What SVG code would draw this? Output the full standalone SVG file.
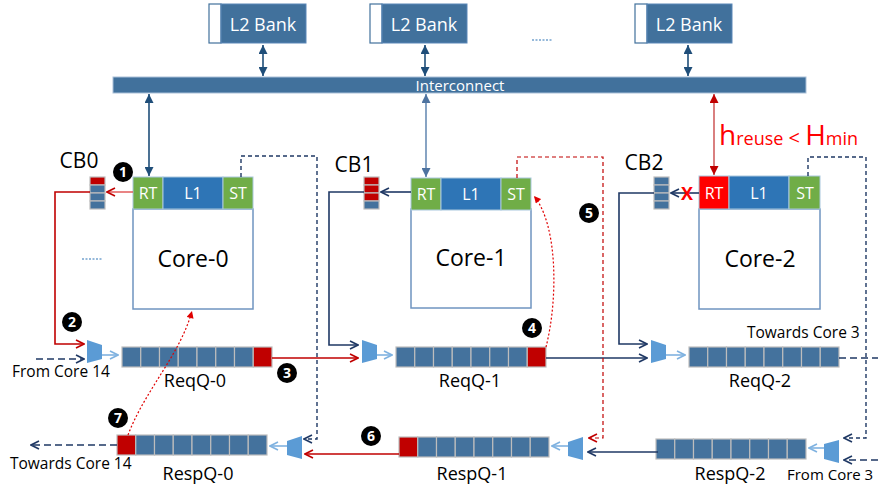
<svg xmlns="http://www.w3.org/2000/svg" width="878" height="489" viewBox="0 0 878 489">
<defs>
<style>
text{font-family:"Open Sans","Liberation Sans",sans-serif;}
.bank{fill:#41719C;stroke:#5B87B8;stroke-width:1;}
.bankw{fill:#fff;stroke:#41719C;stroke-width:1.2;}
.wt{fill:#fff;}
.lbl{fill:#000;}
.rt{fill:#70AD47;stroke:#A9C8DD;stroke-width:1;}
.l1{fill:#2E75B6;stroke:#A9C8DD;stroke-width:1;}
.core{fill:#fff;stroke:#6F94C0;stroke-width:1.5;}
.cell{fill:#44729D;stroke:#BDBDBD;stroke-width:1.2;}
.red{fill:#C00000;stroke:#BDBDBD;stroke-width:1.2;}
.mux{fill:#5B9BD5;}
.num{fill:#000;}
.numt{fill:#fff;font-weight:bold;font-size:14px;text-anchor:middle;}
.navy{fill:none;stroke:#1F3864;stroke-width:1.6;}
.navyd{fill:none;stroke:#1F3864;stroke-width:1.4;stroke-dasharray:4,3;}
.navyd2{fill:none;stroke:#1F3864;stroke-width:1.6;stroke-dasharray:7,4;}
.redl{fill:none;stroke:#C00000;stroke-width:1.6;}
.redd{fill:none;stroke:#C00000;stroke-width:1.2;stroke-dasharray:4,3;}
.redot{fill:none;stroke:#E00000;stroke-width:1.2;stroke-dasharray:2,2;}
.light{fill:none;stroke:#7FB2E0;stroke-width:1.6;}
.bus{fill:none;stroke:#1F4E79;stroke-width:1.6;}
</style>
<marker id="oNavy" viewBox="0 0 10 10" refX="9" refY="5" markerWidth="10" markerHeight="10" orient="auto" markerUnits="userSpaceOnUse"><path d="M1,1 L9,5 L1,9" fill="none" stroke="#1F3864" stroke-width="1.6"/></marker>
<marker id="oRed" viewBox="0 0 10 10" refX="9" refY="5" markerWidth="10" markerHeight="10" orient="auto" markerUnits="userSpaceOnUse"><path d="M1,1 L9,5 L1,9" fill="none" stroke="#C00000" stroke-width="1.6"/></marker>
<marker id="oLight" viewBox="0 0 10 10" refX="9" refY="5" markerWidth="10" markerHeight="10" orient="auto" markerUnits="userSpaceOnUse"><path d="M1,1 L9,5 L1,9" fill="none" stroke="#7FB2E0" stroke-width="1.6"/></marker>
<marker id="tBus" viewBox="0 0 10 10" refX="10" refY="5" markerWidth="10" markerHeight="9" orient="auto-start-reverse" markerUnits="userSpaceOnUse"><path d="M0,0 L10,5 L0,10 z" fill="#1F4E79"/></marker>
<marker id="tBus2" viewBox="0 0 10 10" refX="10" refY="5" markerWidth="10" markerHeight="9" orient="auto-start-reverse" markerUnits="userSpaceOnUse"><path d="M0,0 L10,5 L0,10 z" fill="#4E73A0"/></marker>
<marker id="tRed" viewBox="0 0 10 10" refX="10" refY="5" markerWidth="10" markerHeight="9" orient="auto-start-reverse" markerUnits="userSpaceOnUse"><path d="M0,0 L10,5 L0,10 z" fill="#C00000"/></marker>
<marker id="tRedS" viewBox="0 0 10 10" refX="10" refY="5" markerWidth="8" markerHeight="7" orient="auto" markerUnits="userSpaceOnUse"><path d="M0,0 L10,5 L0,10 z" fill="#E00000"/></marker>
</defs>

<!-- L2 banks -->
<g id="l2bank0"><rect class="bankw" x="209" y="4" width="12" height="39"/><rect class="bank" x="221" y="4" width="85" height="39"/><text class="wt" x="263" y="31" font-size="18" text-anchor="middle">L2 Bank</text></g>
<g id="l2bank1"><rect class="bankw" x="370" y="4" width="12" height="39"/><rect class="bank" x="382" y="4" width="85" height="39"/><text class="wt" x="424" y="31" font-size="18" text-anchor="middle">L2 Bank</text></g>
<g id="l2bank2"><rect class="bankw" x="635" y="4" width="12" height="39"/><rect class="bank" x="647" y="4" width="85" height="39"/><text class="wt" x="689" y="31" font-size="18" text-anchor="middle">L2 Bank</text></g>
<g id="bankdots"><line x1="532" y1="40" x2="553" y2="40" stroke="#2E75B6" stroke-width="1.2" stroke-dasharray="2,1.5"/></g>

<!-- Interconnect -->
<g id="interconnect"><rect x="113" y="77" width="693" height="16" fill="#41719C" stroke="#A9C0D8" stroke-width="1"/><text class="wt" x="460" y="90.5" font-size="15" text-anchor="middle">Interconnect</text></g>

<!-- Core 0 -->
<g id="core0">
<rect class="core" x="133" y="209" width="120" height="100"/>
<rect class="rt" x="133" y="177" width="30" height="32"/><rect class="l1" x="163" y="177" width="60" height="32"/><rect class="rt" x="223" y="177" width="30" height="32"/>
<text class="wt" x="148" y="199" font-size="16" text-anchor="middle">RT</text>
<text class="wt" x="193" y="199" font-size="16" text-anchor="middle">L1</text>
<text class="wt" x="238" y="199" font-size="16" text-anchor="middle">ST</text>
<text class="lbl" x="193" y="267" font-size="23" text-anchor="middle">Core-0</text>
</g>
<!-- Core 1 -->
<g id="core1">
<rect class="core" x="411" y="209" width="120" height="99"/>
<rect class="rt" x="411" y="178" width="30" height="32"/><rect class="l1" x="441" y="178" width="60" height="32"/><rect class="rt" x="501" y="178" width="30" height="32"/>
<text class="wt" x="426" y="200" font-size="16" text-anchor="middle">RT</text>
<text class="wt" x="471" y="200" font-size="16" text-anchor="middle">L1</text>
<text class="wt" x="516" y="200" font-size="16" text-anchor="middle">ST</text>
<text class="lbl" x="471" y="266" font-size="23" text-anchor="middle">Core-1</text>
</g>
<!-- Core 2 -->
<g id="core2">
<rect class="core" x="699" y="209" width="121" height="100"/>
<rect x="699" y="176" width="30" height="33" fill="#FF0000" stroke="#A9C8DD" stroke-width="1"/><rect class="l1" x="729" y="176" width="60" height="33"/><rect class="rt" x="789" y="176" width="31" height="33"/>
<text class="wt" x="714" y="199" font-size="16" text-anchor="middle">RT</text>
<text class="wt" x="759" y="199" font-size="16" text-anchor="middle">L1</text>
<text class="wt" x="805" y="199" font-size="16" text-anchor="middle">ST</text>
<text class="lbl" x="760" y="267" font-size="23" text-anchor="middle">Core-2</text>
</g>
<g id="coredots"><line x1="82" y1="259" x2="103" y2="259" stroke="#2E75B6" stroke-width="1.2" stroke-dasharray="2,1.5"/></g>

<!-- Condition text -->
<g id="condition"><text x="719" y="145" fill="#FF0000"><tspan font-size="28">h</tspan><tspan font-size="18">reuse</tspan><tspan font-size="20"> &lt; </tspan><tspan font-size="28">H</tspan><tspan font-size="18">min</tspan></text></g>

<!-- CBs -->
<g id="cb0"><text class="lbl" x="79" y="168" font-size="21" text-anchor="middle">CB0</text>
<rect class="red" x="90" y="177" width="15" height="8"/><rect class="cell" x="90" y="185" width="15" height="8"/><rect class="cell" x="90" y="193" width="15" height="8"/><rect class="cell" x="90" y="201" width="15" height="8"/></g>
<g id="cb1"><text class="lbl" x="354" y="172" font-size="21" text-anchor="middle">CB1</text>
<rect class="red" x="364" y="177" width="15" height="8"/><rect class="red" x="364" y="185" width="15" height="8"/><rect class="red" x="364" y="193" width="15" height="8"/><rect class="cell" x="364" y="201" width="15" height="8"/></g>
<g id="cb2"><text class="lbl" x="644" y="170" font-size="21" text-anchor="middle">CB2</text>
<rect class="cell" x="654" y="177" width="15" height="8"/><rect class="cell" x="654" y="185" width="15" height="8"/><rect class="cell" x="654" y="193" width="15" height="8"/><rect class="cell" x="654" y="201" width="15" height="8"/></g>

<!-- Muxes -->
<g id="mux-req0"><polygon class="mux" points="87,340 102,345 102,359 87,363"/></g>
<g id="mux-req1"><polygon class="mux" points="362,340 377,345 377,359 362,363"/></g>
<g id="mux-req2"><polygon class="mux" points="651,340 666,345 666,359 651,363"/></g>
<g id="mux-resp0"><polygon class="mux" points="287,441 302,436 302,459 287,455"/></g>
<g id="mux-resp1"><polygon class="mux" points="568,442 583,437 583,460 568,456"/></g>
<g id="mux-resp2"><polygon class="mux" points="824,444 839,440 839,463 824,459"/></g>

<!-- Request queues -->
<g id="reqq0">
<rect class="cell" x="122" y="347" width="18.75" height="20"/><rect class="cell" x="140.75" y="347" width="18.75" height="20"/><rect class="cell" x="159.5" y="347" width="18.75" height="20"/><rect class="cell" x="178.25" y="347" width="18.75" height="20"/><rect class="cell" x="197" y="347" width="18.75" height="20"/><rect class="cell" x="215.75" y="347" width="18.75" height="20"/><rect class="cell" x="234.5" y="347" width="18.75" height="20"/><rect class="red" x="253.25" y="347" width="18.75" height="20"/>
<text class="lbl" x="195" y="387" font-size="18" text-anchor="middle">ReqQ-0</text>
</g>
<g id="reqq1">
<rect class="cell" x="396" y="347" width="18.75" height="20"/><rect class="cell" x="414.75" y="347" width="18.75" height="20"/><rect class="cell" x="433.5" y="347" width="18.75" height="20"/><rect class="cell" x="452.25" y="347" width="18.75" height="20"/><rect class="cell" x="471" y="347" width="18.75" height="20"/><rect class="cell" x="489.75" y="347" width="18.75" height="20"/><rect class="cell" x="508.5" y="347" width="18.75" height="20"/><rect class="red" x="527.25" y="347" width="18.75" height="20"/>
<text class="lbl" x="470" y="387" font-size="18" text-anchor="middle">ReqQ-1</text>
</g>
<g id="reqq2">
<rect class="cell" x="689" y="347" width="18.75" height="20"/><rect class="cell" x="707.75" y="347" width="18.75" height="20"/><rect class="cell" x="726.5" y="347" width="18.75" height="20"/><rect class="cell" x="745.25" y="347" width="18.75" height="20"/><rect class="cell" x="764" y="347" width="18.75" height="20"/><rect class="cell" x="782.75" y="347" width="18.75" height="20"/><rect class="cell" x="801.5" y="347" width="18.75" height="20"/><rect class="cell" x="820.25" y="347" width="18.75" height="20"/>
<text class="lbl" x="760" y="387" font-size="18" text-anchor="middle">ReqQ-2</text>
</g>

<!-- Response queues -->
<g id="respq0">
<rect class="red" x="117" y="435" width="18.75" height="20"/><rect class="cell" x="135.75" y="435" width="18.75" height="20"/><rect class="cell" x="154.5" y="435" width="18.75" height="20"/><rect class="cell" x="173.25" y="435" width="18.75" height="20"/><rect class="cell" x="192" y="435" width="18.75" height="20"/><rect class="cell" x="210.75" y="435" width="18.75" height="20"/><rect class="cell" x="229.5" y="435" width="18.75" height="20"/><rect class="cell" x="248.25" y="435" width="18.75" height="20"/>
<text class="lbl" x="198" y="480" font-size="18" text-anchor="middle">RespQ-0</text>
</g>
<g id="respq1">
<rect class="red" x="399" y="437" width="18.75" height="20"/><rect class="cell" x="417.75" y="437" width="18.75" height="20"/><rect class="cell" x="436.5" y="437" width="18.75" height="20"/><rect class="cell" x="455.25" y="437" width="18.75" height="20"/><rect class="cell" x="474" y="437" width="18.75" height="20"/><rect class="cell" x="492.75" y="437" width="18.75" height="20"/><rect class="cell" x="511.5" y="437" width="18.75" height="20"/><rect class="cell" x="530.25" y="437" width="18.75" height="20"/>
<text class="lbl" x="472" y="480" font-size="18" text-anchor="middle">RespQ-1</text>
</g>
<g id="respq2">
<rect class="cell" x="656" y="439" width="18.75" height="20"/><rect class="cell" x="674.75" y="439" width="18.75" height="20"/><rect class="cell" x="693.5" y="439" width="18.75" height="20"/><rect class="cell" x="712.25" y="439" width="18.75" height="20"/><rect class="cell" x="731" y="439" width="18.75" height="20"/><rect class="cell" x="749.75" y="439" width="18.75" height="20"/><rect class="cell" x="768.5" y="439" width="18.75" height="20"/><rect class="cell" x="787.25" y="439" width="18.75" height="20"/>
<text class="lbl" x="730" y="480" font-size="18" text-anchor="middle">RespQ-2</text>
</g>

<!-- Edge labels -->
<g id="ext-labels">
<text class="lbl" x="12" y="377" font-size="15.5">From Core 14</text>
<text class="lbl" x="10" y="469" font-size="15.5">Towards Core 14</text>
<text class="lbl" x="747" y="338" font-size="15.5">Towards Core 3</text>
<text class="lbl" x="787" y="480" font-size="15">From Core 3</text>
</g>

<!-- Connectors -->
<g id="connectors">
<line class="bus" x1="263" y1="45" x2="263" y2="76" marker-start="url(#tBus)" marker-end="url(#tBus)"/>
<line class="bus" x1="425" y1="45" x2="425" y2="76" marker-start="url(#tBus)" marker-end="url(#tBus)"/>
<line class="bus" x1="688" y1="45" x2="688" y2="76" marker-start="url(#tBus)" marker-end="url(#tBus)"/>
<line class="bus" x1="149" y1="94" x2="149" y2="176" marker-start="url(#tBus)" marker-end="url(#tBus)"/>
<line x1="426" y1="94" x2="426" y2="177" stroke="#6A8DB5" stroke-width="1.6" marker-start="url(#tBus2)" marker-end="url(#tBus2)"/>
<line x1="714" y1="94" x2="714" y2="175" stroke="#D06060" stroke-width="1.6" marker-start="url(#tRed)" marker-end="url(#tRed)"/>

<line x1="133" y1="192" x2="107" y2="192" stroke="#E05050" stroke-width="1.4" marker-end="url(#oRed)"/>
<polyline class="redl" points="90,192 55,192 55,344 84,344" marker-end="url(#oRed)"/>
<line class="navyd2" x1="36" y1="359" x2="84" y2="359" marker-end="url(#oNavy)"/>
<line class="light" x1="102" y1="355" x2="118" y2="355" marker-end="url(#oLight)"/>
<line class="redl" x1="272" y1="358" x2="358" y2="358" marker-end="url(#oRed)"/>

<line class="navy" x1="411" y1="192" x2="381" y2="192" stroke-width="1.3" marker-end="url(#oNavy)"/>
<polyline class="navy" points="364,192 329,192 329,345 358,345" marker-end="url(#oNavy)"/>
<line class="light" x1="377" y1="355" x2="392" y2="355" marker-end="url(#oLight)"/>
<line class="navy" x1="546" y1="358" x2="647" y2="358" marker-end="url(#oNavy)"/>

<line class="navy" x1="699" y1="193" x2="671" y2="193" stroke-width="1.3" marker-end="url(#oNavy)"/>
<polyline class="navy" points="654,193 619,193 619,344 647,344" marker-end="url(#oNavy)"/>
<line class="light" x1="666" y1="355" x2="685" y2="355" marker-end="url(#oLight)"/>
<line class="navyd2" x1="839" y1="358" x2="878" y2="358"/>

<polyline class="navyd" points="241,177 241,156 317,156 317,439 304,439" marker-end="url(#oNavy)"/>
<polyline class="redd" points="517,178 517,157 603,157 603,438 589,438" marker-end="url(#oRed)"/>
<polyline class="navyd" points="808,176 808,157 866,157 866,438 844,438" marker-end="url(#oNavy)"/>
<line class="navyd2" x1="878" y1="460" x2="844" y2="460" marker-end="url(#oNavy)"/>

<line class="light" x1="824" y1="448" x2="809" y2="448" marker-end="url(#oLight)"/>
<line class="navy" x1="658" y1="452" x2="588" y2="452" marker-end="url(#oNavy)"/>
<line class="light" x1="568" y1="446" x2="552" y2="446" marker-end="url(#oLight)"/>
<line class="redl" x1="399" y1="454" x2="305" y2="454" marker-end="url(#oRed)"/>
<line class="light" x1="287" y1="446" x2="270" y2="446" marker-end="url(#oLight)"/>
<line class="navyd2" x1="117" y1="445" x2="31" y2="445" marker-end="url(#oNavy)"/>

<path class="redot" d="M128,435 C145,390 180,355 192,311" marker-end="url(#tRedS)"/>
<path class="redot" d="M546,347 C558,300 558,225 534,196" marker-end="url(#tRedS)"/>

<text x="687" y="200" fill="#FF0000" font-size="18" font-weight="bold" text-anchor="middle">X</text>
</g>

<!-- Step markers -->
<g id="step1"><circle class="num" cx="123" cy="172" r="10"/><text class="numt" x="123" y="177">1</text></g>
<g id="step2"><circle class="num" cx="72" cy="322" r="10"/><text class="numt" x="72" y="327">2</text></g>
<g id="step3"><circle class="num" cx="287" cy="373" r="10"/><text class="numt" x="287" y="378">3</text></g>
<g id="step4"><circle class="num" cx="532" cy="328" r="10"/><text class="numt" x="532" y="333">4</text></g>
<g id="step5"><circle class="num" cx="589" cy="213" r="10"/><text class="numt" x="589" y="218">5</text></g>
<g id="step6"><circle class="num" cx="371" cy="436" r="10"/><text class="numt" x="371" y="441">6</text></g>
<g id="step7"><circle class="num" cx="118" cy="418" r="10"/><text class="numt" x="118" y="423">7</text></g>
</svg>
